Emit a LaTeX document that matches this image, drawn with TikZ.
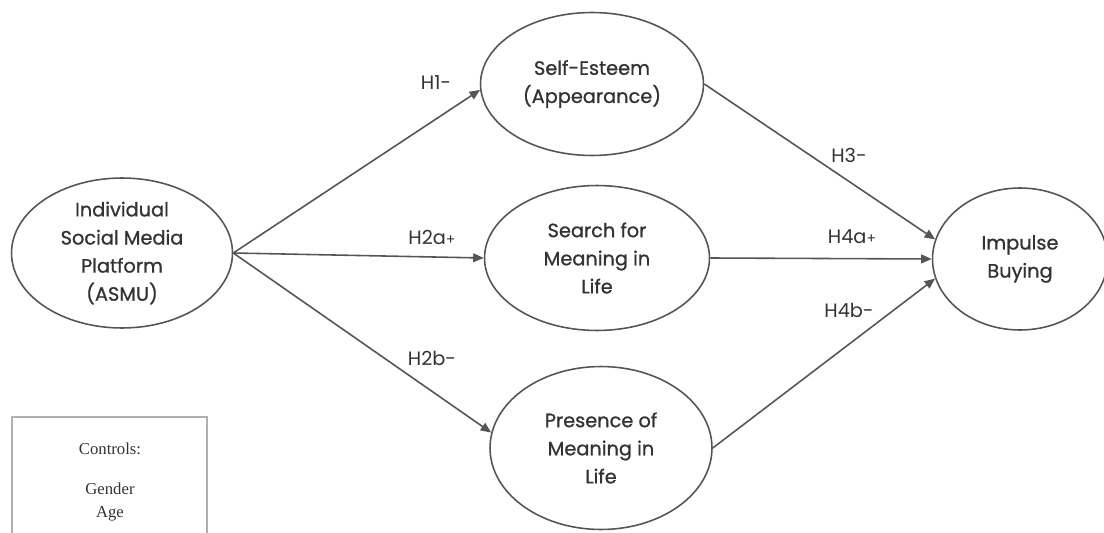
\documentclass[tikz,border=0pt]{standalone}
\usepackage{fontspec}
\setmainfont{Poppins}
\newfontfamily\nodefont{Poppins}[FakeBold=0.9]
\newfontfamily\ctrlfont{Liberation Serif}
\usepackage{xcolor}
\usepackage{tikz}
\usetikzlibrary{positioning,arrows.meta,shapes.geometric}

\definecolor{linegray}{HTML}{555555}
\definecolor{textgray}{HTML}{333333}
\definecolor{boxgray}{HTML}{B0B0B0}

\tikzset{
  construct/.style={draw=linegray, line width=0.9pt, ellipse, inner sep=0pt, align=center,
    text=textgray, font=\nodefont\fontsize{11}{16}\selectfont},
  link/.style={draw=linegray, line width=0.9pt, -{Triangle[length=6pt,width=5pt]}},
  hyp/.style={text=textgray, font=\fontsize{11}{12}\selectfont},
  ctrl/.style={text=textgray, font=\ctrlfont\fontsize{9.5}{13}\selectfont, align=center}
}

\begin{document}
\begin{tikzpicture}[x=0.02cm,y=-0.02cm]
\useasboundingbox (0,0) rectangle (1104,533);
\node[construct, minimum width=4.42cm, minimum height=3.0cm] (asmu) at (122,253) {Individual\\Social Media\\Platform\\(ASMU)};
\node[construct, minimum width=4.46cm, minimum height=2.86cm] (self) at (592,84) {Self-Esteem\\(Appearance)};
\node[construct, minimum width=4.5cm, minimum height=2.9cm] (search) at (597,258) {Search for\\Meaning in\\Life};
\node[construct, minimum width=4.44cm, minimum height=3.26cm] (presence) at (601,448) {Presence of\\Meaning in\\Life};
\node[construct, minimum width=3.5cm, minimum height=2.84cm] (impulse) at (1020,259) {Impulse\\Buying};
\draw[link] (asmu.east) -- (self.183);
\draw[link] (asmu.east) -- (search.west);
\draw[link] (asmu.east) -- (presence.172);
\draw[link] (self.east) -- (impulse.167);
\draw[link] (search.east) -- (impulse.west);
\draw[link] (presence.east) -- (impulse.193);
\node[hyp] (h1) at (436,83) {H1-};
\node[hyp] (h2a) at (432,237) {H2a{\footnotesize+}};
\node[hyp] (h2b) at (432,358) {H2b-};
\node[hyp] (h3) at (849,155) {H3-};
\node[hyp] (h4a) at (852,237) {H4a{\footnotesize+}};
\node[hyp] (h4b) at (849,310) {H4b-};
\draw[boxgray, line width=0.8pt] (12,533) -- (12,417) -- (207,417) -- (207,533);
\node[ctrl] (controls) at (110,449) {Controls:};
\node[ctrl] (vars) at (110,502) {Gender\\Age};
\end{tikzpicture}
\end{document}
